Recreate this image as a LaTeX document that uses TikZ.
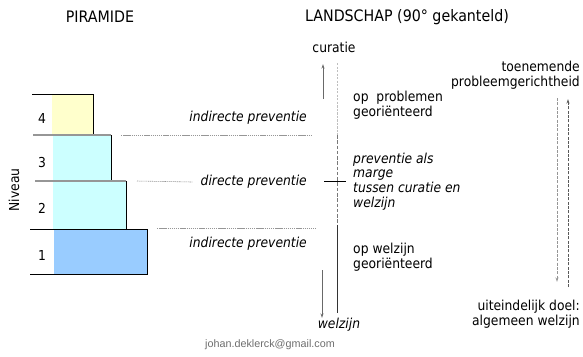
\documentclass[tikz,border=0pt]{standalone}
\usepackage{fontspec}
\setmainfont{DejaVu Sans Condensed}
\newfontfamily\mailfont{Liberation Sans}
\usetikzlibrary{arrows.meta}
\definecolor{levelfour}{RGB}{255,255,204}
\definecolor{levelmid}{RGB}{204,255,255}
\definecolor{levelone}{RGB}{153,204,255}
\definecolor{guidegray}{RGB}{150,150,150}
\definecolor{lightgray}{RGB}{190,190,190}
\definecolor{darkgray}{RGB}{90,90,90}
\definecolor{mailgray}{RGB}{110,110,110}
\tikzset{
  body/.style={font=\fontsize{11.7}{12.6}\selectfont, inner sep=0pt},
  bodyit/.style={font=\fontsize{11.7}{12.6}\selectfont\itshape, inner sep=0pt},
  heading/.style={font=\fontsize{13.5}{15}\selectfont, inner sep=0pt},
  guideline/.style={guidegray, dash pattern=on 1.2pt off 0.6pt, line width=0.5pt},
  spine/.style={line width=0.8pt},
  tip/.style={-{Stealth[length=4pt,width=2.6pt]}}
}
\begin{document}
\begin{tikzpicture}[x=0.03cm, y=-0.03cm]
            \useasboundingbox (0,0) rectangle (583,356);
            \fill[levelfour]                             ( 52, 94) rectangle ( 93,135);
            \fill[levelmid]                              ( 53,135) rectangle (111,181);
            \fill[levelmid]                              ( 53,181) rectangle (126,229);
            \fill[levelone]                              ( 54,229) rectangle (147,274);
            \draw[line width=0.8pt]                      ( 32, 94) -- ( 94, 94);
            \draw[line width=0.8pt]                      ( 93, 94) -- ( 93,135);
            \draw[guidegray, line width=1.2pt]           ( 33,135) -- (111,135);
            \draw[line width=0.8pt]                      (111,135) -- (111,181);
            \draw[guidegray, line width=1.2pt]           ( 35,181) -- (126,181);
            \draw[line width=0.8pt]                      (126,181) -- (126,229);
            \draw[line width=0.8pt]                      ( 30,229) -- (148,229);
            \draw[line width=0.8pt]                      (147,229) -- (147,274);
            \draw[line width=0.8pt]                      ( 30,274) -- (148,274);
            \node[body] (lvlfour)  at ( 42,118) {4};
            \node[body] (lvlthree) at ( 42,163) {3};
            \node[body] (lvltwo)   at ( 42,208) {2};
            \node[body] (lvlone)   at ( 42,255) {1};
            \node[body, rotate=90] (niveau) at (14,190) {Niveau};
            \node[heading] (pyrtitle)  at (100, 17) {PIRAMIDE};
            \node[heading] (landtitle) at (407, 17) {LANDSCHAP (90° gekanteld)};
            \node[bodyit, anchor=east] (indirtop) at (307,118) {indirecte preventie};
            \node[bodyit, anchor=east] (dirmid)   at (307,182) {directe preventie};
            \node[bodyit, anchor=east] (indirbot) at (307,244) {indirecte preventie};
            \coordinate (sepa) at (121,135); \coordinate (sepaend) at (312,135);
            \coordinate (sepb) at (137,181);
            \coordinate (sepc) at (157,228); \coordinate (sepcend) at (316,228);
            \draw[guideline] (sepa) -- (sepaend);
            \draw[guideline] (sepb) -- ([xshift=-7pt]dirmid.west);
            \draw[guideline] (sepc) -- (sepcend);
            \node[body] (curatie) at (334, 47) {curatie};
            \node[bodyit] (welzijn) at (339,325) {welzijn};
            \coordinate (upfrom) at (323, 99); \coordinate (upto) at (323, 64);
            \coordinate (downfrom) at (322,270); \coordinate (downto) at (322,318);
            \draw[tip, guidegray!70!black, line width=0.7pt] (upfrom) -- (upto);
            \draw[tip, guidegray!70!black, line width=0.7pt] (downfrom) -- (downto);
            \coordinate (spinetop) at (337, 63);
            \coordinate (spinea)   at (337,135);
            \coordinate (spineb)   at (337,225);
            \coordinate (spinebot) at (337,313);
            \draw[spine, lightgray, line width=0.6pt, dash pattern=on 2pt off 1pt] (spinetop) -- (spinea);
            \draw[spine, guidegray!80!black, dash pattern=on 3pt off 1.5pt] (spinea) -- (spineb);
            \draw[spine, black!80] (spineb) -- (spinebot);
            \coordinate (markl) at (324,181); \coordinate (markr) at (346,181);
            \draw[line width=0.8pt] (markl) -- (markr);
            \node[body, anchor=west, align=left]   (opprob) at (353,105) {op\ \ problemen\\georiënteerd};
            \node[bodyit, anchor=west, align=left] (marge)  at (353,181.5) {preventie als\\marge\\tussen curatie en\\welzijn};
            \node[body, anchor=west, align=left]   (opwelz) at (353,257) {op welzijn\\georiënteerd};
            \node[body, anchor=east, align=right]  (toen)   at (580,75.5) {toenemende\\probleemgerichtheid};
            \node[body, anchor=east, align=right]  (doel)   at (580,314.5) {uiteindelijk doel:\\algemeen welzijn};
            \coordinate (dashatop) at (557, 98);  \coordinate (dashabot) at (557,282);
            \coordinate (dashbbot) at (568,287);  \coordinate (dashbtop) at (568, 99);
            \draw[tip, guidegray, dash pattern=on 2.5pt off 1.2pt, line width=0.7pt] (dashatop) -- (dashabot);
            \draw[tip, darkgray, dash pattern=on 2.5pt off 1.2pt, line width=0.7pt] (dashbbot) -- (dashbtop);
            \node[font=\mailfont\fontsize{9.2}{11}\selectfont, text=mailgray, inner sep=0pt] (mail) at (270,345) {johan.deklerck@gmail.com};
\end{tikzpicture}
\end{document}
